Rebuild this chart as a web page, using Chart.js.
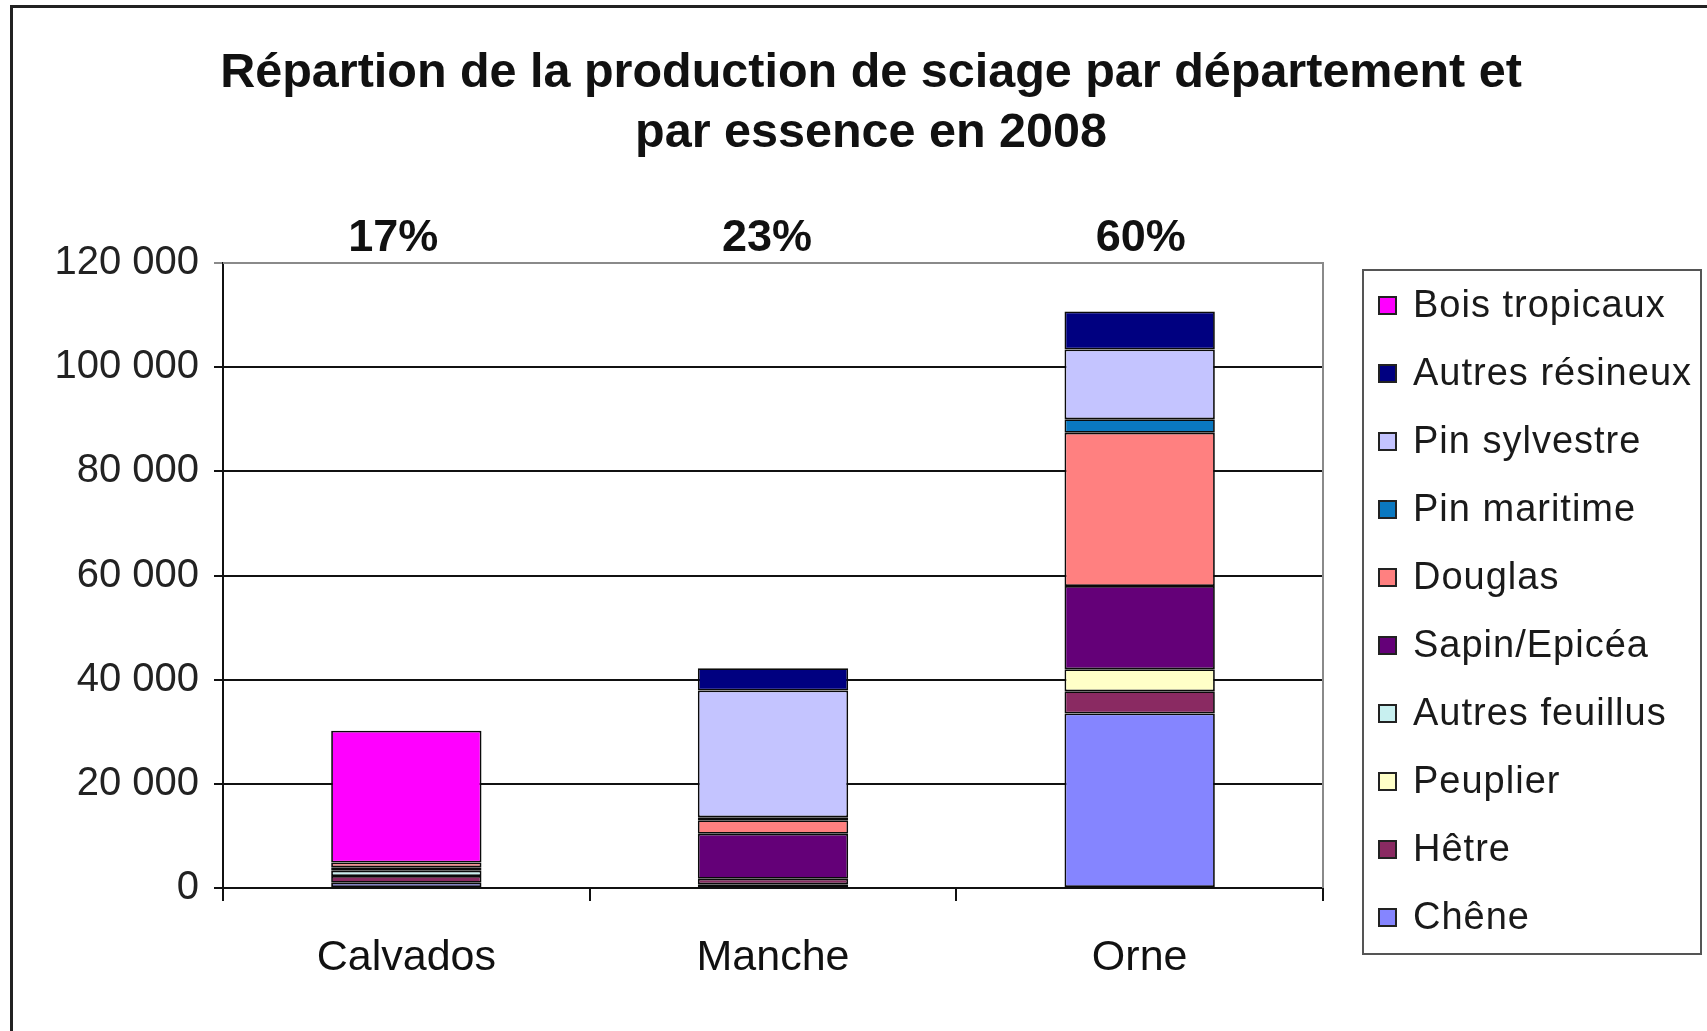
<!DOCTYPE html>
<html>
<head>
<meta charset="utf-8">
<script src="https://cdn.jsdelivr.net/npm/chart.js@4.4.1/dist/chart.umd.min.js"></script>
<style>
html,body{margin:0;padding:0;background:#fff;}
#wrap{width:1707px;height:1031px;position:relative;}
</style>
</head>
<body>
<div id="wrap"><canvas id="c"></canvas></div>
<script>
// ---- data ----
const categories = ['Calvados', 'Manche', 'Orne'];
const shares = ['17%', '23%', '60%'];
const titleLines = ['Répartion de la production de sciage par département et', 'par essence en 2008'];
const yTicks = [0, 20000, 40000, 60000, 80000, 100000, 120000];

const seriesNames = ['Chêne', 'Hêtre', 'Peuplier', 'Autres feuillus', 'Sapin/Epicéa', 'Douglas', 'Pin maritime', 'Pin sylvestre', 'Autres résineux', 'Bois tropicaux'];
const chene          = [1000, 700, 33500];
const hetre          = [1300, 1100, 4300];
const peuplier       = [0, 0, 4200];
const autresFeuillus = [1000, 0, 0];
const sapinEpicea    = [700, 8600, 16000];
const douglas        = [900, 2600, 29400];
const pinMaritime    = [0, 600, 2600];
const pinSylvestre   = [0, 24300, 13400];
const autresResineux = [0, 4300, 7300];
const boisTropicaux  = [25300, 0, 0];
const seriesValues = [chene, hetre, peuplier, autresFeuillus, sapinEpicea, douglas, pinMaritime, pinSylvestre, autresResineux, boisTropicaux];
const seriesColors = ['#8585FF', '#8A2A62', '#FFFFC8', '#C8F0F0', '#640078', '#FF8080', '#0A78C0', '#C4C4FF', '#000080', '#FF00FF'];

const FONT = '"Liberation Sans", Arial, sans-serif';

const fmt = v => String(v).replace(/\B(?=(\d{3})+(?!\d))/g, ' ');

const decor = {
  id: 'decor',
  afterDraw(chart) {
    const ctx = chart.ctx;
    const ca = chart.chartArea;
    const xs = chart.scales.x;
    ctx.save();
    // outer frame
    ctx.strokeStyle = '#222';
    ctx.lineWidth = 3;
    ctx.strokeRect(11.5, 6.5, 1740, 1060);
    // plot area border (top/right grey)
    ctx.strokeStyle = '#8a8a8a';
    ctx.lineWidth = 2;
    ctx.beginPath();
    ctx.moveTo(ca.left, ca.top);
    ctx.lineTo(ca.right, ca.top);
    ctx.lineTo(ca.right, ca.bottom);
    ctx.stroke();
    // title
    ctx.fillStyle = '#111';
    ctx.textAlign = 'center';
    ctx.textBaseline = 'middle';
    ctx.font = 'bold 48.5px ' + FONT;
    ctx.fillText(titleLines[0], 871, 74);
    ctx.fillText(titleLines[1], 871, 134);
    // percentages
    ctx.font = 'bold 45px ' + FONT;
    categories.forEach((c, i) => {
      ctx.fillText(shares[i], xs.getPixelForValue(i) - 6 + (i - 1) * 7, 239);
    });
    // legend
    const lx = 1363, ly = 270, lw = 338, lh = 684;
    ctx.fillStyle = '#fff';
    ctx.fillRect(lx, ly, lw, lh);
    ctx.strokeStyle = '#555';
    ctx.lineWidth = 2;
    ctx.strokeRect(lx, ly, lw, lh);
    ctx.textAlign = 'left';
    ctx.font = '38px ' + FONT;
    try { ctx.letterSpacing = '1px'; } catch (e) {}
    const ds = chart.data.datasets;
    for (let k = 0; k < ds.length; k++) {
      const d = ds[ds.length - 1 - k];
      const cy = 306 + k * 68;
      ctx.fillStyle = d.backgroundColor;
      ctx.fillRect(1379, cy - 9, 17, 17);
      ctx.strokeStyle = '#222';
      ctx.lineWidth = 2;
      ctx.strokeRect(1379, cy - 9, 17, 17);
      ctx.fillStyle = '#1a1a1a';
      ctx.fillText(d.label, 1413, cy + 1);
    }
    ctx.restore();
  }
};

Chart.defaults.font.family = FONT;
Chart.defaults.color = '#111';

new Chart(document.getElementById('c'), {
  type: 'bar',
  data: {
    labels: categories,
    datasets: seriesNames.map((n, i) => ({
      label: n,
      data: seriesValues[i],
      backgroundColor: seriesColors[i],
      borderColor: '#0a0a0a',
      borderWidth: 1.75,
      borderSkipped: false,
      barPercentage: 0.41,
      categoryPercentage: 1.0
    }))
  },
  options: {
    responsive: true,
    maintainAspectRatio: false,
    animation: false,
    layout: { padding: { left: 0, right: 384, top: 263, bottom: 0 } },
    plugins: {
      legend: { display: false },
      title: { display: false },
      tooltip: { enabled: false }
    },
    scales: {
      x: {
        stacked: true,
        afterFit: s => { s.height = 143; },
        grid: { drawOnChartArea: false, offset: true, tickLength: 13, color: '#111', lineWidth: 2 },
        border: { color: '#111', width: 2 },
        ticks: { font: { size: 43 }, color: '#111', padding: 31 }
      },
      y: {
        stacked: true,
        min: 0,
        max: 120000,
        afterFit: s => { s.width = 223; },
        afterBuildTicks: s => { s.ticks = yTicks.map(v => ({ value: v })); },
        grid: {
          color: ctx => (ctx.tick && ctx.tick.value === 120000) ? '#8a8a8a' : '#111',
          lineWidth: 2,
          tickLength: 9
        },
        border: { color: '#111', width: 2 },
        ticks: { font: { size: 40 }, color: '#222', padding: 15, callback: v => fmt(v) }
      }
    }
  },
  plugins: [decor]
});
</script>
</body>
</html>
